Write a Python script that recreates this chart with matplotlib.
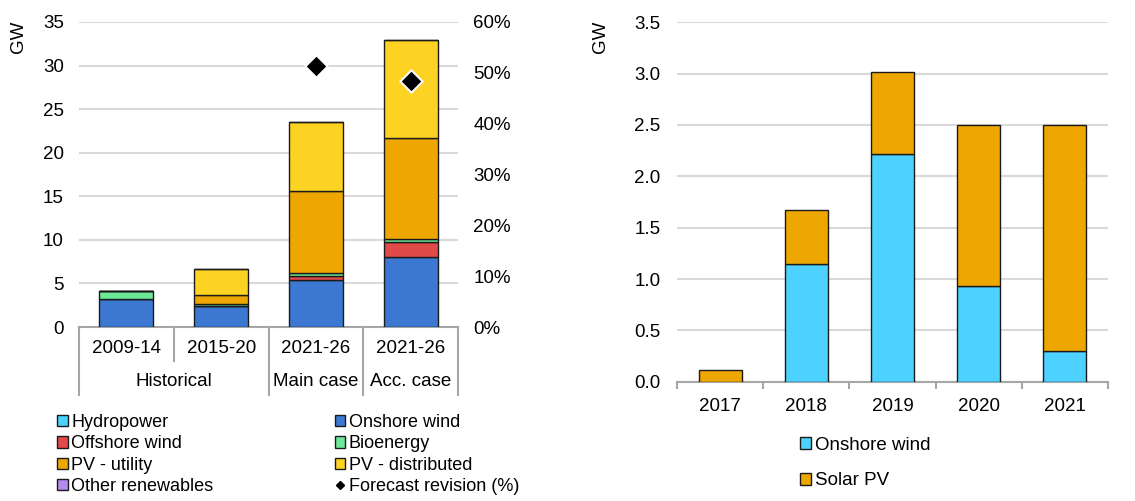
import matplotlib.pyplot as plt
from matplotlib.lines import Line2D
from matplotlib.patches import Patch
from matplotlib.ticker import FuncFormatter
import matplotlib.transforms as mtransforms

plt.rcParams['font.family'] = ['Liberation Sans', 'DejaVu Sans']
plt.rcParams['font.size'] = 13.5

# left chart data (GW)
periods = ['2009-14', '2015-20', '2021-26', '2021-26']
groups = ['Historical', 'Main case', 'Acc. case']
hydropower = [0.0, 0.0, 0.0, 0.0]
onshore_wind = [3.25, 2.4, 5.35, 8.0]
offshore_wind = [0.0, 0.0, 0.55, 1.7]
bioenergy = [0.85, 0.25, 0.35, 0.4]
pv_utility = [0.0, 1.05, 9.35, 11.6]
pv_distributed = [0.0, 3.0, 7.9, 11.2]
other_renewables = [0.0, 0.0, 0.0, 0.0]
forecast_revision = [None, None, 0.514, 0.483]

# right chart data (GW)
years = ['2017', '2018', '2019', '2020', '2021']
onshore_wind_r = [0.0, 1.15, 2.22, 0.93, 0.3]
solar_pv_r = [0.11, 0.52, 0.8, 1.57, 2.2]

C_HYDRO = '#4DD2FF'
C_ONSHORE = '#3C78D2'
C_OFFSHORE = '#E24A4A'
C_BIO = '#6CE996'
C_PVU = '#EEA600'
C_PVD = '#FDD323'
C_OTHER = '#B38CEB'
GRID = '#D9D9D9'
AXIS = '#A6A6A6'

fig = plt.figure(figsize=(11.35, 5.01), dpi=100)

# ---------------- left chart ----------------
ax = fig.add_axes([79 / 1135, 1 - 327 / 501, 379 / 1135, 305 / 501])
x = list(range(len(periods)))
series = [(hydropower, C_HYDRO), (onshore_wind, C_ONSHORE), (offshore_wind, C_OFFSHORE),
          (bioenergy, C_BIO), (pv_utility, C_PVU), (pv_distributed, C_PVD),
          (other_renewables, C_OTHER)]
bottom = [0.0] * len(periods)
for vals, col in series:
    ax.bar(x, vals, 0.57, bottom=bottom, color=col, edgecolor='#1a1a1a', linewidth=1, zorder=3)
    bottom = [b + v for b, v in zip(bottom, vals)]

ax.set_xlim(-0.5, 3.5)
ax.set_ylim(0, 35)
ax.set_yticks(range(0, 36, 5))
ax.grid(axis='y', color=GRID, linewidth=1.5, zorder=0)
for s in ['top', 'right', 'left']:
    ax.spines[s].set_visible(False)
ax.spines['bottom'].set_color(AXIS)
ax.spines['bottom'].set_linewidth(1.5)
ax.tick_params(axis='y', length=0, pad=11)
ax.set_xticks([])

trans = mtransforms.blended_transform_factory(ax.transData, ax.transAxes)
for xs, yb in [(-0.5, -0.223), (0.5, -0.11), (1.5, -0.223), (2.5, -0.223), (3.5, -0.223)]:
    ax.add_line(Line2D([xs, xs], [0, yb], transform=trans, color=AXIS, lw=1.5, clip_on=False))
for xi, lab in zip(x, periods):
    ax.text(xi, -0.072, lab, transform=trans, ha='center', va='center')
for xc, lab in zip([0.5, 2, 3], groups):
    ax.text(xc, -0.18, lab, transform=trans, ha='center', va='center')

ax2 = ax.twinx()
ax2.set_ylim(0, 0.6)
ax2.set_yticks([i / 10 for i in range(7)])
ax2.yaxis.set_major_formatter(FuncFormatter(lambda v, p: f'{v * 100:.0f}%'))
ax2.tick_params(axis='y', length=0, pad=11)
for s in ax2.spines.values():
    s.set_visible(False)
fx = [xi for xi, v in zip(x, forecast_revision) if v is not None]
fy = [v for v in forecast_revision if v is not None]
ax2.scatter(fx, fy, marker='D', s=130, color='black', edgecolors='white', linewidths=1.5, zorder=5)

fig.text(18 / 1135, 1 - 37 / 501, 'GW', rotation=90, ha='center', va='center')

handles = [Patch(facecolor=C_HYDRO, edgecolor='#1a1a1a', label='Hydropower'),
           Patch(facecolor=C_OFFSHORE, edgecolor='#1a1a1a', label='Offshore wind'),
           Patch(facecolor=C_PVU, edgecolor='#1a1a1a', label='PV - utility'),
           Patch(facecolor=C_OTHER, edgecolor='#1a1a1a', label='Other renewables'),
           Patch(facecolor=C_ONSHORE, edgecolor='#1a1a1a', label='Onshore wind'),
           Patch(facecolor=C_BIO, edgecolor='#1a1a1a', label='Bioenergy'),
           Patch(facecolor=C_PVD, edgecolor='#1a1a1a', label='PV - distributed'),
           Line2D([], [], marker='D', color='black', linestyle='none', markersize=4,
                  label='Forecast revision (%)')]
fig.legend(handles=handles, ncol=2, loc='upper left', bbox_to_anchor=(57 / 1135, 1 - 414 / 501),
           frameon=False, borderpad=0, borderaxespad=0, handlelength=0.6, handleheight=0.6,
           handletextpad=0.2, labelspacing=0.24, columnspacing=6.7, fontsize=13)

# ---------------- right chart ----------------
axr = fig.add_axes([677 / 1135, 1 - 381.7 / 501, 431 / 1135, 359.4 / 501])
xr = list(range(len(years)))
axr.bar(xr, onshore_wind_r, 0.5, color=C_HYDRO, edgecolor='#1a1a1a', linewidth=1, zorder=3,
        label='Onshore wind')
axr.bar(xr, solar_pv_r, 0.5, bottom=onshore_wind_r, color=C_PVU, edgecolor='#1a1a1a',
        linewidth=1, zorder=3, label='Solar PV')
axr.set_xlim(-0.5, 4.5)
axr.set_ylim(0, 3.5)
axr.set_yticks([i / 2 for i in range(8)])
axr.yaxis.set_major_formatter(FuncFormatter(lambda v, p: f'{v:.1f}'))
axr.set_xticks(xr)
axr.set_xticklabels(years)
axr.set_xticks([i - 0.5 for i in range(6)], minor=True)
axr.tick_params(axis='x', which='major', length=0, pad=12)
axr.tick_params(axis='x', which='minor', length=5, color=AXIS, width=1.5)
axr.tick_params(axis='y', length=0, pad=12)
axr.grid(axis='y', color=GRID, linewidth=1.5, zorder=0)
for s in ['top', 'right', 'left']:
    axr.spines[s].set_visible(False)
axr.spines['bottom'].set_color(AXIS)
axr.spines['bottom'].set_linewidth(1.5)

fig.text(600 / 1135, 1 - 37 / 501, 'GW', rotation=90, ha='center', va='center')

axr.legend(loc='upper left', bbox_to_anchor=(800 / 1135, 1 - 437 / 501),
           bbox_transform=fig.transFigure, frameon=False, borderpad=0, borderaxespad=0,
           handlelength=0.6, handleheight=0.6, handletextpad=0.2, labelspacing=0.98)

fig.savefig('out.png', dpi=100)
